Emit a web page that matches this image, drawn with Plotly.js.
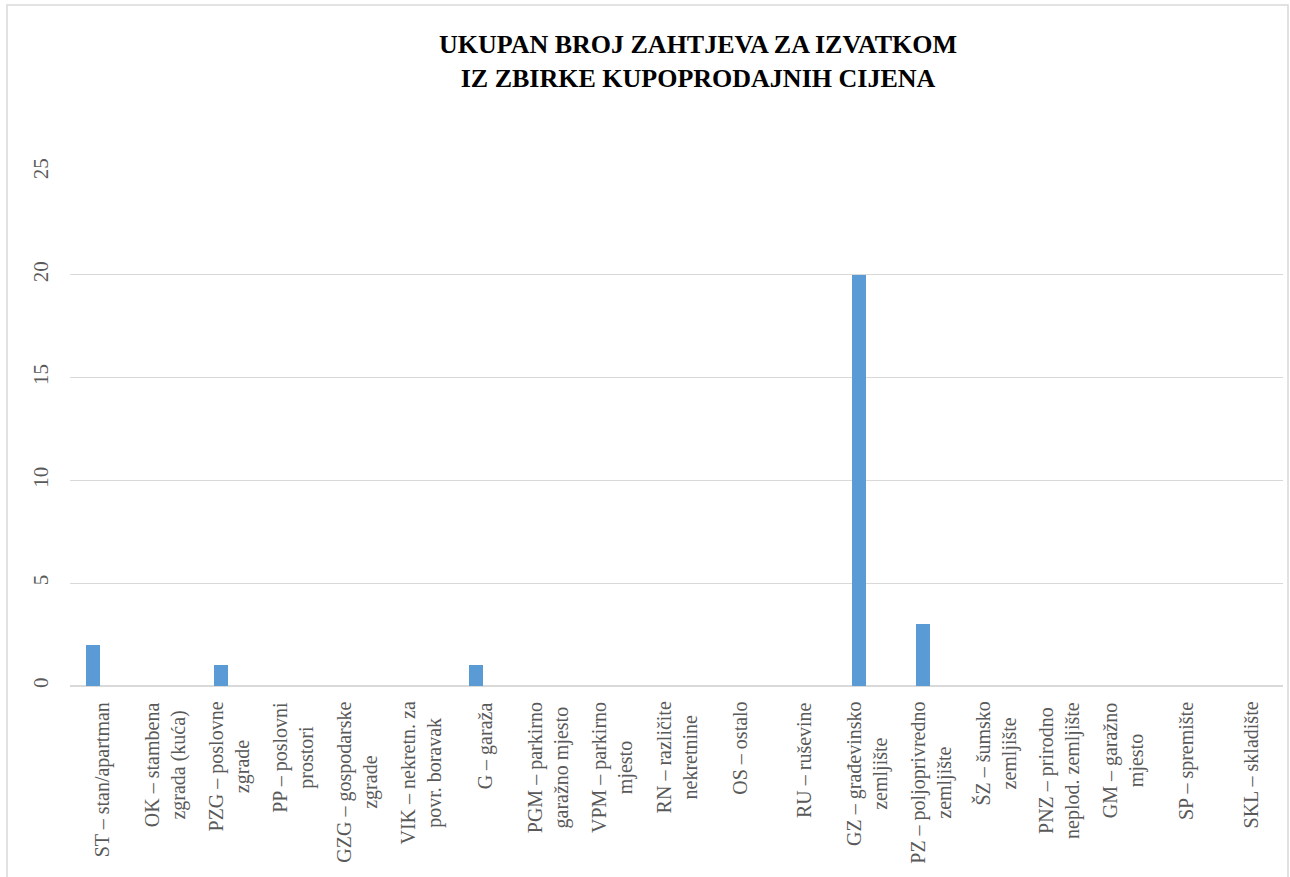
<!DOCTYPE html>
<html>
<head>
<meta charset="utf-8">
<script src="https://cdn.plot.ly/plotly-3.0.1.min.js"></script>
<style>
  html, body { margin: 0; padding: 0; background: #fff; overflow: hidden; }
  #chart { width: 1290px; height: 877px; }
</style>
</head>
<body>
<div id="chart"></div>
<script>
const categories = ["ST","OK","PZG","PP","GZG","VIK","G","PGM","VPM","RN","OS","RU","GZ","PZ","ŠZ","PNZ","GM","SP","SKL"];
const tickLabels = [
  "ST – stan/apartman",
  "OK – stambena<br>zgrada (kuća)",
  "PZG – poslovne<br>zgrade",
  "PP – poslovni<br>prostori",
  "GZG – gospodarske<br>zgrade",
  "VIK – nekretn. za<br>povr. boravak",
  "G – garaža",
  "PGM – parkirno<br>garažno mjesto",
  "VPM – parkirno<br>mjesto",
  "RN – različite<br>nekretnine",
  "OS – ostalo",
  "RU – ruševine",
  "GZ – građevinsko<br>zemljište",
  "PZ – poljoprivredno<br>zemljište",
  "ŠZ – šumsko<br>zemljište",
  "PNZ – prirodno<br>neplod. zemljište",
  "GM – garažno<br>mjesto",
  "SP – spremište",
  "SKL – skladište"
];
const values = [2,0,1,0,0,0,1,0,0,0,0,0,20,3,0,0,0,0,0];
const yTicks = [0,5,10,15,20,25];
const titleText = "<b>UKUPAN BROJ ZAHTJEVA ZA IZVATKOM<br>IZ ZBIRKE KUPOPRODAJNIH CIJENA</b>";

const serif = "Liberation Serif";
const gray = "#595959";

const trace = {
  type: "bar",
  x: categories,
  y: values,
  width: 0.22,
  offset: -0.25,
  marker: { color: "#5B9BD5", line: { width: 0 } },
  hoverinfo: "x+y"
};

const annotations = categories.map((c, i) => ({
  x: c, xref: "x",
  y: -0.027, yref: "paper",
  text: tickLabels[i],
  textangle: -90,
  xanchor: "center", yanchor: "top",
  align: "center",
  showarrow: false,
  font: { family: serif, size: 20, color: gray }
}));

const layout = {
  width: 1290, height: 877,
  margin: { l: 70, r: 7, t: 172, b: 191 },
  paper_bgcolor: "#ffffff",
  plot_bgcolor: "#ffffff",
  font: { family: serif, color: gray, size: 20 },
  showlegend: false,
  bargap: 0,
  title: {
    text: titleText,
    font: { family: serif, size: 26, color: "#000000" },
    x: 698 / 1290, xref: "container", xanchor: "center",
    y: 1 - 53 / 877, yref: "container", yanchor: "top"
  },
  xaxis: {
    type: "category",
    categoryorder: "array",
    categoryarray: categories,
    range: [-0.5, categories.length - 0.5],
    showticklabels: false,
    showgrid: false,
    zeroline: false,
    showline: false,
    ticks: ""
  },
  yaxis: {
    range: [0, 25],
    tickvals: yTicks,
    ticktext: yTicks.map(String),
    tickangle: -90,
    tickfont: { family: serif, size: 21, color: gray },
    showgrid: true,
    gridcolor: "#D9D9D9",
    gridwidth: 1,
    zeroline: true,
    zerolinecolor: "#D9D9D9",
    zerolinewidth: 2,
    showline: false,
    ticks: "",
    ticklabelstandoff: 17
  },
  annotations: annotations,
  shapes: [{
    type: "rect", xref: "paper", yref: "paper", layer: "below",
    x0: (7 - 70) / 1213, x1: (1288 - 70) / 1213,
    y0: -0.5, y1: (686 - 5) / 514,
    line: { color: "#D9D9D9", width: 1.5 },
    fillcolor: "rgba(0,0,0,0)"
  }]
};

Plotly.newPlot("chart", [trace], layout, { displayModeBar: false, staticPlot: true });
</script>
</body>
</html>
